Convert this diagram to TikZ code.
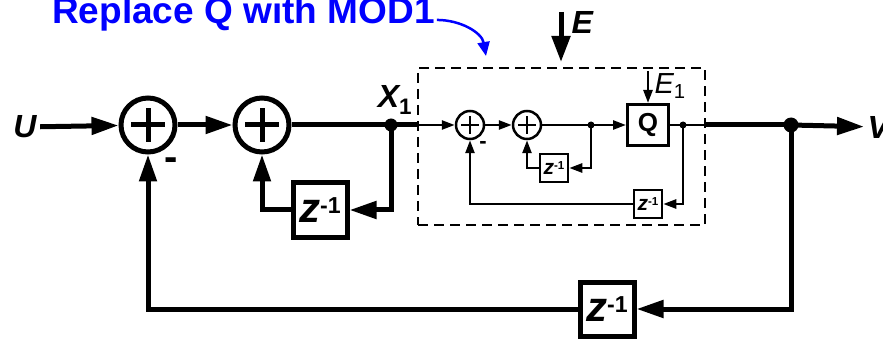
\documentclass[tikz,border=0pt]{standalone}
\usepackage{fontspec}
\usepackage{graphicx}
\setmainfont{Liberation Sans}
\usetikzlibrary{arrows.meta,positioning}
\newcommand{\zinv}{\textit{z}\raisebox{0.42ex}{\scalebox{0.55}{-1}}}

\begin{document}
\begin{tikzpicture}[x=1pt, y=-1pt,
        sumbig/.style={circle, draw, line width=5pt, minimum size=54pt, inner sep=0pt,
            path picture={\draw[line width=5pt] (path picture bounding box.center) ++(-17pt,0) -- ++(34pt,0)
                (path picture bounding box.center) ++(0,-17pt) -- ++(0,34pt);}},
        sumsmall/.style={circle, draw, line width=2.5pt, minimum size=28pt, inner sep=0pt,
            path picture={\draw[line width=2.5pt] (path picture bounding box.center) ++(-9pt,0) -- ++(18pt,0)
                (path picture bounding box.center) ++(0,-9pt) -- ++(0,18pt);}},
        delaybig/.style={rectangle, draw, line width=5pt, minimum size=54pt, inner sep=0pt,
            font=\fontsize{42}{42}\selectfont\bfseries},
        delaysmall/.style={rectangle, draw, line width=2.5pt, minimum size=28pt, inner sep=0pt,
            font=\fontsize{21}{21}\selectfont\bfseries},
        qbox/.style={rectangle, draw, line width=3pt, minimum size=41pt, inner sep=0pt,
            font=\fontsize{26}{26}\selectfont\bfseries},
        modbox/.style={rectangle, draw, line width=2.5pt, dash pattern=on 10pt off 6pt,
            minimum width=287pt, minimum height=157pt, inner sep=0pt},
        label/.style={font=\fontsize{32}{32}\selectfont\bfseries\itshape},
        main/.style={line width=5pt},
        thin/.style={line width=2.5pt},
        big/.style={line width=5pt, -{Triangle[length=27pt, width=17pt]}},
        small/.style={line width=2.5pt, -{Triangle[length=13pt, width=9pt]}}
    ]
        \useasboundingbox (0,0) rectangle (883,339);

        % outer loop
        \node[label] (U) at (25,127) {U};
        \node[sumbig] (s1) at (148,125) {};
        \node[sumbig] (s2) at (262,125) {};
        \coordinate (x1) at (391,125);
        \node[label, anchor=south] (x1lab) at (395,118) {X\textsubscript{\upshape 1}};
        \node[delaybig] (z1) at (320,210) {\zinv};
        \coordinate (d3) at (791,125);
        \node[label, anchor=west] (V) at (864,127) {V};
        \node[delaybig] (z2) at (607,309) {\zinv};

        % first order modulator
        \node[modbox] (mod) at (561.5,146.5) {};
        \node[sumsmall] (a) at (470,125) {};
        \node[sumsmall] (b) at (527,125) {};
        \coordinate (d1) at (591,125);
        \node[qbox] (q) at (648,125) {Q};
        \coordinate (d2) at (683,125);
        \node[delaysmall] (zi1) at (554,168) {\zinv};
        \node[delaysmall] (zi2) at (648,204) {\zinv};
        \coordinate (e1) at (648,71);
        \node[font=\fontsize{29}{29}\selectfont\itshape, anchor=west] (e1lab) at (651,86) {E\textsubscript{\upshape 1}};

        % noise input and note
        \coordinate (etop) at (561,12);
        \coordinate (ebot) at (561,62);
        \node[label, anchor=west] (elab) at (568,22) {E};
        \node[font=\fontsize{37}{37}\selectfont\bfseries, text=blue, anchor=base west, inner sep=0pt] (note) at (52,23.5) {Replace Q with MOD1};
        \coordinate (noteend) at (486,56);

        \draw[big] (U) -- (s1);
        \draw[big] (s1) -- (s2);
        \draw[main] (s2) -- (x1) -- (mod.west |- x1);
        \fill (x1) circle (6.5pt);
        \draw[big] (x1) |- (z1);
        \draw[big] (z1) -| (s2);

        \draw[small] (mod.west |- a) -- (a);
        \draw[small] (a) -- (b);
        \draw[thin] (b) -- (d1);
        \draw[small] (d1) -- (q);
        \draw[thin] (q) -- (d2) -- (mod.east |- d2);
        \fill (d1) circle (3.5pt);
        \fill (d2) circle (3.5pt);
        \draw[small] (d1) |- (zi1);
        \draw[small] (zi1) -| (b);
        \draw[small] (d2) |- (zi2);
        \draw[small] (zi2) -| (a);
        \draw[small] (e1) -- (q);
        \node[font=\fontsize{22}{22}\selectfont\bfseries] (ma) at (483,145) {-};

        \draw[main] (mod.east |- d2) -- (d3);
        \fill (d3) circle (7.5pt);
        \draw[big] (d3) -- (V);
        \draw[big] (d3) |- (z2);
        \draw[big] (z2) -| (s1);
        \node[font=\fontsize{40}{40}\selectfont\bfseries] (m1) at (171,164) {-};

        \draw[big, -{Triangle[length=26pt, width=18pt]}] (etop) -- (ebot);
        \draw[blue, line width=2.5pt, -{Triangle[length=14pt, width=12pt]}] (note.east) ++(2pt,-6pt) to[out=0, in=100] (noteend);
    \end{tikzpicture}
\end{document}
